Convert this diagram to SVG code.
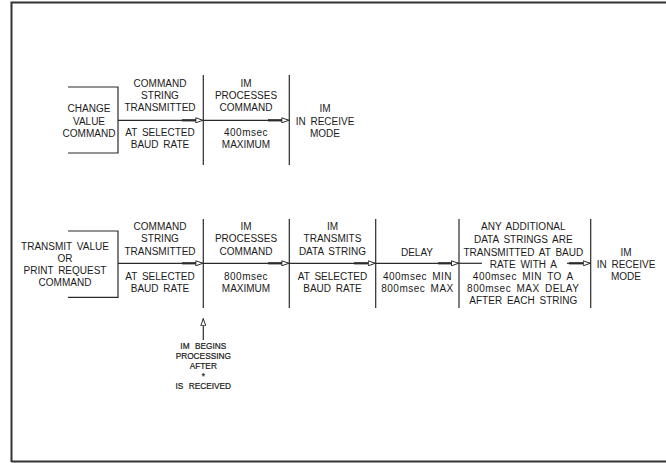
<svg xmlns="http://www.w3.org/2000/svg" width="666" height="463" viewBox="0 0 666 463">
<style>
  text { font-family: "Liberation Sans", Arial, sans-serif; font-size: 10px; fill: #1a1a1a; text-anchor: middle; word-spacing: 2px; }
  text.m { letter-spacing: 0.5px; }
  text.s { font-size: 8.3px; word-spacing: 3px; stroke: #1a1a1a; stroke-width: 0.2px; }
  .ln { stroke: #2a2a2a; stroke-width: 1.2; fill: none; }
  .thk { stroke: #2a2a2a; stroke-width: 2.2; fill: none; }
  .frame { stroke: #333; stroke-width: 2; fill: none; }
</style>
<defs>
  <marker id="ah" viewBox="0 0 8 6" refX="8" refY="3" markerWidth="8" markerHeight="6" markerUnits="userSpaceOnUse" orient="auto">
    <path d="M0.5,0.5 L7.5,3 L0.5,5.5 Z" fill="#fff" stroke="#2a2a2a" stroke-width="1"/>
  </marker>
</defs>
<rect width="666" height="463" fill="#fff"/>
<path class="frame" d="M11.5,462 L11.5,2.5 L667,2.5 M11.5,461.5 L667,461.5"/>

<!-- TOP DIAGRAM -->
<g id="top-source">
  <path class="ln" d="M68,87 L118,87 L118,153 L68,153"/>
  <text x="89" y="112">CHANGE</text>
  <text x="89" y="124.5">VALUE</text>
  <text x="89" y="136.5">COMMAND</text>
</g>
<g id="top-transmit">
  <text x="160" y="87">COMMAND</text>
  <text x="160" y="99">STRING</text>
  <text x="160" y="111.3">TRANSMITTED</text>
  <text x="160" y="136.3">AT SELECTED</text>
  <text x="160" y="147.8">BAUD RATE</text>
</g>
<g id="top-process">
  <path class="ln" d="M203.3,75 L203.3,165"/>
  <text x="246" y="87">IM</text>
  <text x="246" y="99">PROCESSES</text>
  <text x="246" y="111.3">COMMAND</text>
  <text class="m" x="246" y="136.3">400msec</text>
  <text x="246" y="147.8">MAXIMUM</text>
</g>
<g id="top-receive">
  <path class="ln" d="M289.3,75 L289.3,165"/>
  <text x="325" y="112">IM</text>
  <text x="325" y="124.5">IN RECEIVE</text>
  <text x="325" y="136.5">MODE</text>
</g>
<g id="top-connectors">
  <path class="ln" d="M118,120.3 L203.3,120.3" marker-end="url(#ah)"/>
  <path class="thk" d="M182,120.3 L196,120.3"/>
  <path class="ln" d="M203.3,120.3 L289.3,120.3" marker-end="url(#ah)"/>
  <path class="thk" d="M268,120.3 L282,120.3"/>
</g>

<!-- BOTTOM DIAGRAM -->
<g id="bot-source">
  <path class="ln" d="M68,231 L118,231 L118,297.3 L68,297.3"/>
  <text x="65" y="250.2">TRANSMIT VALUE</text>
  <text x="65" y="261.8">OR</text>
  <text x="65" y="274.2">PRINT REQUEST</text>
  <text x="65" y="285.5">COMMAND</text>
</g>
<g id="bot-transmit">
  <text x="160" y="229.5">COMMAND</text>
  <text x="160" y="242">STRING</text>
  <text x="160" y="254.5">TRANSMITTED</text>
  <text x="160" y="279.5">AT SELECTED</text>
  <text x="160" y="291.8">BAUD RATE</text>
</g>
<g id="bot-process">
  <path class="ln" d="M203.3,219 L203.3,308"/>
  <text x="246" y="229.5">IM</text>
  <text x="246" y="242">PROCESSES</text>
  <text x="246" y="254.5">COMMAND</text>
  <text class="m" x="246" y="279.5">800msec</text>
  <text x="246" y="291.8">MAXIMUM</text>
</g>
<g id="bot-transmits">
  <path class="ln" d="M289.3,219 L289.3,308"/>
  <text x="332.5" y="229.5">IM</text>
  <text x="332.5" y="242">TRANSMITS</text>
  <text x="332.5" y="254.5">DATA STRING</text>
  <text x="332.5" y="279.5">AT SELECTED</text>
  <text x="332.5" y="291.8">BAUD RATE</text>
</g>
<g id="bot-delay">
  <path class="ln" d="M375.7,219 L375.7,308"/>
  <text x="417" y="255.8">DELAY</text>
  <text class="m" x="417.5" y="279.8">400msec MIN</text>
  <text class="m" x="417.5" y="291.8">800msec MAX</text>
</g>
<g id="bot-additional">
  <path class="ln" d="M459,219 L459,308"/>
  <text x="523.3" y="230.2">ANY ADDITIONAL</text>
  <text x="523.3" y="243">DATA STRINGS ARE</text>
  <text x="523.3" y="255.8">TRANSMITTED AT BAUD</text>
  <text x="523.3" y="267.5">RATE WITH A</text>
  <text class="m" x="523.3" y="279.8">400msec MIN TO A</text>
  <text class="m" x="523.3" y="291.8">800msec MAX DELAY</text>
  <text x="523.3" y="303.5">AFTER EACH STRING</text>
</g>
<g id="bot-receive">
  <path class="ln" d="M590.7,219 L590.7,308"/>
  <text x="626" y="255.8">IM</text>
  <text x="626" y="267.5">IN RECEIVE</text>
  <text x="626" y="279.5">MODE</text>
</g>
<g id="note">
  <text class="s" x="203.3" y="348.8">IM BEGINS</text>
  <text class="s" x="203.3" y="359">PROCESSING</text>
  <text class="s" x="203.3" y="369">AFTER</text>
  <text class="s" x="203.3" y="378.5">*</text>
  <text class="s" x="203.3" y="388.8">IS RECEIVED</text>
</g>
<g id="bot-connectors">
  <path class="ln" d="M118,263.3 L203.3,263.3" marker-end="url(#ah)"/>
  <path class="thk" d="M182,263.3 L196,263.3"/>
  <path class="ln" d="M203.3,263.3 L289.3,263.3" marker-end="url(#ah)"/>
  <path class="thk" d="M268,263.3 L282,263.3"/>
  <path class="ln" d="M289.3,263.3 L375.7,263.3" marker-end="url(#ah)"/>
  <path class="thk" d="M354,263.3 L368.5,263.3"/>
  <path class="ln" d="M375.7,263.3 L459,263.3" marker-end="url(#ah)"/>
  <path class="thk" d="M438,263.3 L452,263.3"/>
  <path class="ln" d="M459,263.3 L482,263.3"/>
  <path class="ln" d="M567,263.3 L590.7,263.3" marker-end="url(#ah)"/>
  <path class="thk" d="M569,263.3 L583.5,263.3"/>
  <path class="ln" d="M203.3,340 L203.3,318.3" marker-end="url(#ah)"/>
</g>
</svg>
